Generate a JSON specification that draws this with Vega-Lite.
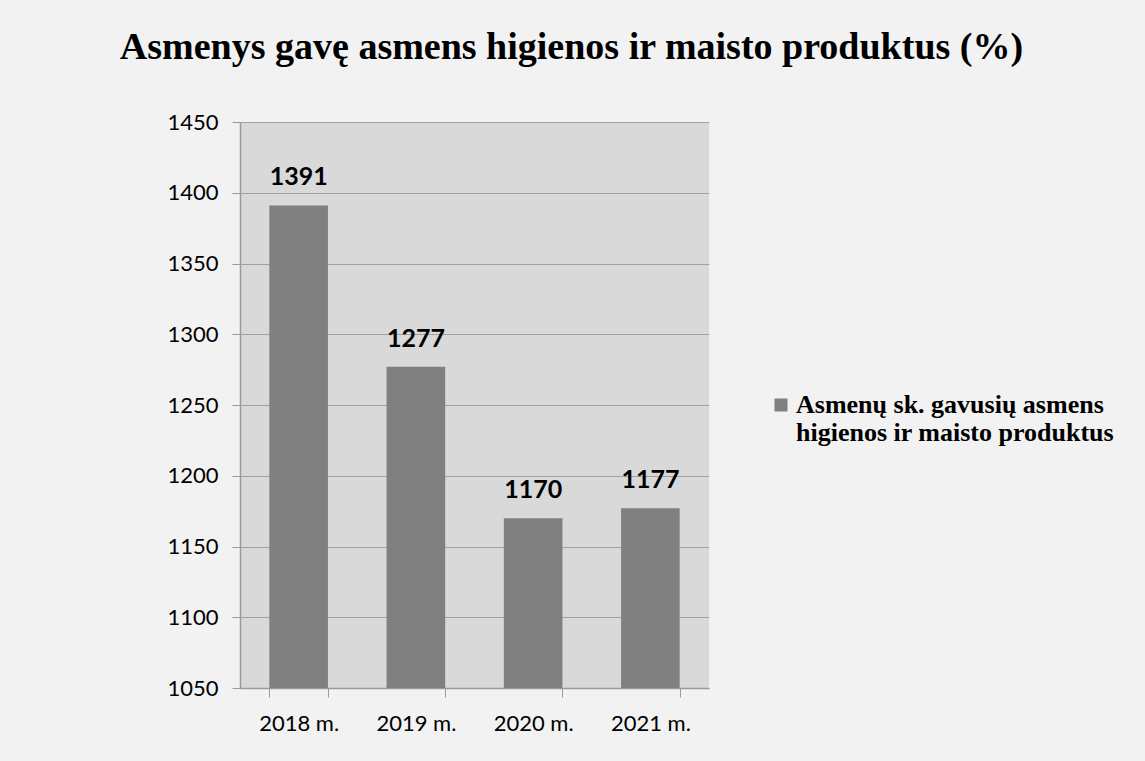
{
  "$schema": "https://vega.github.io/schema/vega-lite/v6.json",
  "autosize": "none",
  "width": 469,
  "height": 566,
  "padding": {"left": 240, "top": 122, "right": 436, "bottom": 73},
  "background": "#f2f2f2",
  "title": {
    "text": "Asmenys gavę asmens higienos ir maisto produktus (%)",
    "font": "Liberation Serif",
    "fontSize": 38,
    "fontWeight": "bold",
    "color": "#000000",
    "anchor": "middle",
    "frame": "group",
    "dx": 97,
    "offset": 44
  },
  "data": {
    "values": [
      {"metai": "2018 m.", "reiksme": 1391},
      {"metai": "2019 m.", "reiksme": 1277},
      {"metai": "2020 m.", "reiksme": 1170},
      {"metai": "2021 m.", "reiksme": 1177}
    ]
  },
  "config": {
    "view": {"fill": "#d9d9d9", "stroke": null},
    "axis": {
      "labelFont": "Lato",
      "labelFontSize": 22,
      "labelColor": "#000000",
      "domainColor": "#9a9a9a",
      "tickColor": "#9a9a9a",
      "gridColor": "#a0a0a0",
      "title": null
    }
  },
  "layer": [
    {
      "mark": {"type": "bar", "color": "#808080"},
      "encoding": {
        "x": {
          "field": "metai",
          "type": "nominal",
          "sort": null,
          "scale": {"paddingInner": 0.5, "paddingOuter": 0.25},
          "axis": {"labelAngle": 0, "tickSize": 9, "labelPadding": 16, "tickBand": "extent", "domainWidth": 1.5}
        },
        "y": {
          "field": "reiksme",
          "type": "quantitative",
          "scale": {"domain": [1050, 1450], "zero": false, "nice": false},
          "axis": {"values": [1050, 1100, 1150, 1200, 1250, 1300, 1350, 1400, 1450], "format": "d", "tickSize": 8, "labelPadding": 14, "grid": true, "domainWidth": 1.5}
        },
        "y2": {"datum": 1050},
        "color": {
          "datum": "Asmenų sk. gavusių asmens higienos ir maisto produktus",
          "scale": {"range": ["#808080"]},
          "legend": {
            "orient": "none",
            "legendX": 528,
            "legendY": 270,
            "title": null,
            "symbolType": "square",
            "symbolSize": 169,
            "symbolStrokeWidth": 0,
            "labelFont": "Liberation Serif",
            "labelFontSize": 26,
            "labelFontWeight": "bold",
            "labelColor": "#000000",
            "labelLimit": 400,
            "labelOffset": 2,
            "labelBaseline": "middle",
            "labelExpr": "['Asmenų sk. gavusių asmens', 'higienos ir maisto produktus']"
          }
        }
      }
    },
    {
      "mark": {"type": "text", "font": "Lato", "fontSize": 25, "fontWeight": "bold", "color": "#000000", "baseline": "alphabetic", "dy": -20},
      "encoding": {
        "x": {"field": "metai", "type": "nominal", "sort": null},
        "y": {"field": "reiksme", "type": "quantitative"},
        "text": {"field": "reiksme", "type": "quantitative"}
      }
    }
  ]
}
